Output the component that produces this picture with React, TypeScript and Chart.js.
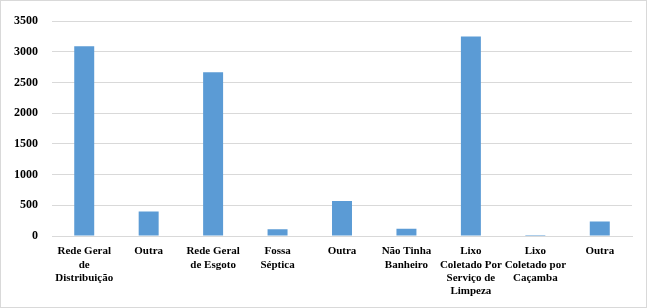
import React, { useEffect, useRef } from "react";
import { Chart, registerables } from "chart.js";

Chart.register(...registerables);

const categories: string[][] = [
  ["Rede Geral", "de", "Distribuição"],
  ["Outra"],
  ["Rede Geral", "de Esgoto"],
  ["Fossa", "Séptica"],
  ["Outra"],
  ["Não Tinha", "Banheiro"],
  ["Lixo", "Coletado Por", "Serviço de", "Limpeza"],
  ["Lixo", "Coletado por", "Caçamba"],
  ["Outra"],
];
const values: number[] = [3090, 400, 2670, 110, 570, 120, 3250, 15, 235];
const yMax = 3500;
const yStep = 500;

const borderPlugin = {
  id: "outerBorder",
  beforeDraw(chart: any) {
    const ctx = chart.ctx;
    ctx.save();
    ctx.fillStyle = "#ffffff";
    ctx.fillRect(0, 0, chart.width, chart.height);
    ctx.strokeStyle = "#d9d9d9";
    ctx.lineWidth = 1;
    ctx.strokeRect(0.5, 0.5, chart.width - 1, chart.height - 1);
    ctx.restore();
  },
};

export default function App() {
  const ref = useRef<HTMLCanvasElement | null>(null);
  useEffect(() => {
    document.body.style.margin = "0";
    const font = { family: "'Times New Roman', 'Liberation Serif', serif", size: 11, weight: "bold" as const, lineHeight: 1.2 };
    const chart = new Chart(ref.current as HTMLCanvasElement, {
      type: "bar",
      data: {
        labels: categories,
        datasets: [
          {
            data: values,
            backgroundColor: "#5b9bd5",
            categoryPercentage: 1,
            barPercentage: 0.31,
          },
        ],
      },
      options: {
        animation: false,
        responsive: false,
        maintainAspectRatio: false,
        layout: { padding: { top: 16, right: 15, bottom: 0, left: 0 } },
        plugins: { legend: { display: false }, tooltip: { enabled: false } },
        scales: {
          x: {
            grid: { display: false, drawTicks: false },
            border: { display: true, color: "#d9d9d9" },
            ticks: {
              color: "#000",
              font,
              maxRotation: 0,
              minRotation: 0,
              autoSkip: false,
              padding: 9,
            },
            afterFit(scale: any) {
              scale.height = 72;
            },
          },
          y: {
            min: 0,
            max: yMax,
            grid: { color: "#d9d9d9", drawTicks: false },
            border: { display: false },
            ticks: {
              stepSize: yStep,
              color: "#000",
              font: { ...font, size: 12 },
              padding: 14,
              callback: (v: any) => String(v),
            },
            afterFit(scale: any) {
              scale.width = 52;
            },
          },
        },
      },
      plugins: [borderPlugin],
    });
    return () => chart.destroy();
  }, []);
  return (
    <div style={{ position: "absolute", left: 0, top: 0, width: 647, height: 308 }}>
      <canvas ref={ref} width={647} height={308} style={{ display: "block" }} />
    </div>
  );
}
